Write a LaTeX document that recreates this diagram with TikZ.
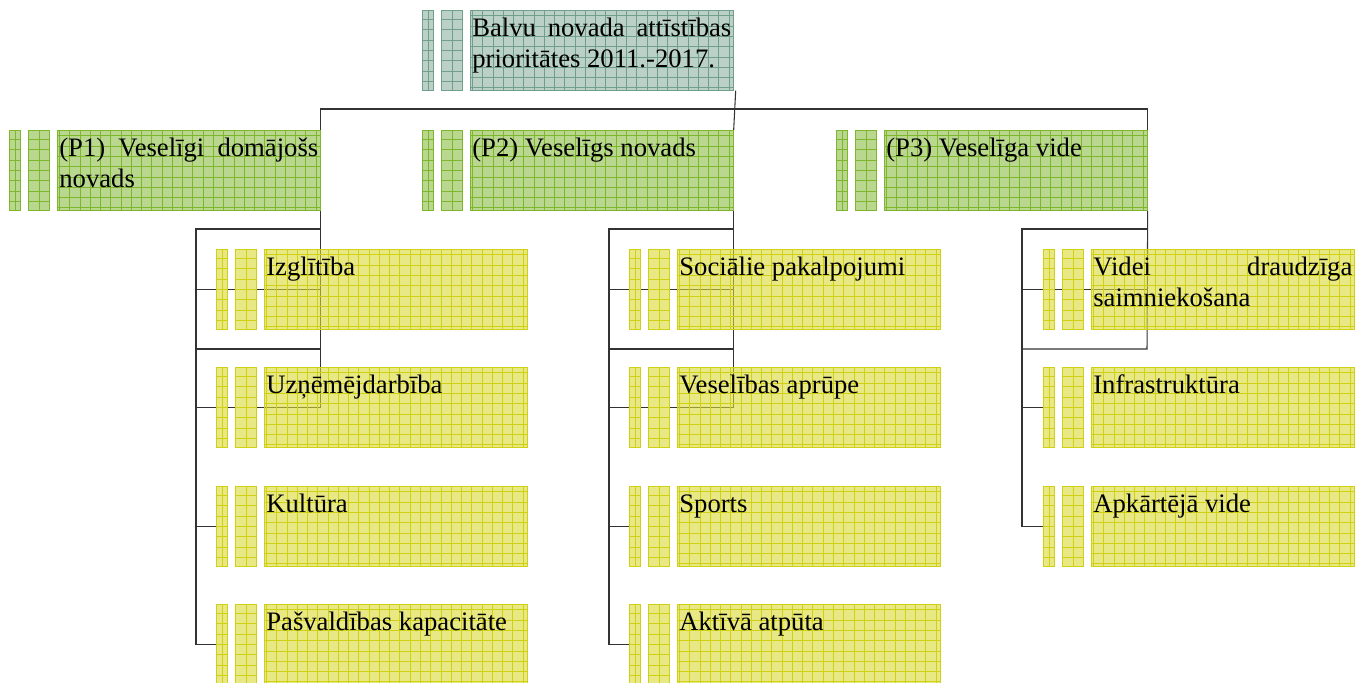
\documentclass[tikz,border=0pt]{standalone}
\usepackage{fontspec}
\setmainfont{Liberation Serif}
\usepackage{tikz}
\pgfdeclarelayer{bg}
\pgfsetlayers{bg,main}

\definecolor{topfill}{RGB}{142,178,162}
\definecolor{topline}{RGB}{112,160,140}
\definecolor{prifill}{RGB}{140,188,70}
\definecolor{priline}{RGB}{126,182,44}
\definecolor{subfill}{RGB}{216,216,50}
\definecolor{subline}{RGB}{208,208,20}

\tikzstyle{bar}=[anchor=north west, inner sep=0pt, minimum height=60pt, line width=0.5pt, fill opacity=0.6, text opacity=1]
\tikzstyle{lvltop}=[bar, draw=topline, fill=topfill, path picture={\draw[topline, line width=0.5pt] (path picture bounding box.south west) grid[step=7.7pt] (path picture bounding box.north east);}]
\tikzstyle{lvlpri}=[bar, draw=priline, fill=prifill, path picture={\draw[priline, line width=0.5pt] (path picture bounding box.south west) grid[step=7.7pt] (path picture bounding box.north east);}]
\tikzstyle{lvlsub}=[bar, draw=subline, fill=subfill, path picture={\draw[subline, line width=0.5pt] (path picture bounding box.south west) grid[step=7.7pt] (path picture bounding box.north east);}]
\tikzstyle{link}=[draw=black!80, line width=0.8pt]

% three pieces of one entry: two thin bars and the text box
\newcommand{\blk}[5]{%
  \node[#4, minimum width=8.25pt] (#1-a) at (#2,#3) {};
  \node[#4, minimum width=15.75pt] (#1-b) at (#2+19,#3) {};
  \node[#4, minimum width=197.25pt, inner xsep=1.5pt] (#1) at (#2+48,#3)
    {\parbox[t][60pt][t]{194.25pt}{\sloppy\hyphenpenalty=10000\rule{0pt}{19.5pt}#5}};
}

\begin{document}
\begin{tikzpicture}[x=0.75pt, y=-0.75pt, font=\fontsize{20pt}{23pt}\selectfont]
    \useasboundingbox (0,0) rectangle (1355,682);

    \blk{top}{422}{10}{lvltop}{Balvu novada attīstības prioritātes 2011.-2017.}

    \blk{p1}{9}{130}{lvlpri}{(P1) Veselīgi domājošs novads}
    \blk{p2}{422}{130}{lvlpri}{(P2) Veselīgs novads}
    \blk{p3}{836}{130}{lvlpri}{(P3) Veselīga vide}

    \blk{iz}{216}{249}{lvlsub}{Izglītība}
    \blk{uz}{216}{367}{lvlsub}{Uzņēmējdarbība}
    \blk{ku}{216}{486}{lvlsub}{Kultūra}
    \blk{pv}{216}{604}{lvlsub}{Pašvaldības kapacitāte}

    \blk{so}{629}{249}{lvlsub}{Sociālie pakalpojumi}
    \blk{ve}{629}{367}{lvlsub}{Veselības aprūpe}
    \blk{sp}{629}{486}{lvlsub}{Sports}
    \blk{ak}{629}{604}{lvlsub}{Aktīvā atpūta}

    \blk{vd}{1043}{249}{lvlsub}{Videi draudzīga saimniekošana}
    \blk{in}{1043}{367}{lvlsub}{Infrastruktūra}
    \blk{ap}{1043}{486}{lvlsub}{Apkārtējā vide}

    \coordinate (hub) at (735,109);
    \coordinate (r1) at (196,229);
    \coordinate (r2) at (609,229);
    \coordinate (r3) at (1022,229);
    \coordinate (g1) at (320,349);
    \coordinate (g2) at (733,349);
    \coordinate (g3) at (1147,349);

    \begin{pgfonlayer}{bg}
        % top level
        \draw[link] ([xshift=1.5pt]top.south east) -- (p2.north east);
        \draw[link] (p1.north east) |- (hub) -| (p3.north east);
        % P1
        \draw[link] (p1.south east) |- (r1) |- (iz-a.west) -- (iz-a.west -| p1.east);
        \draw[link] (r1) |- (pv-a.west);
        \draw[link] (r1 |- ku-a.west) -- (ku-a.west);
        \draw[link] (r1 |- g1) -- (g1);
        \draw[link] (r1 |- uz-a.west) -- (uz-a.west -| p1.east) -- (p1.south east);
        % P2
        \draw[link] (p2.south east) |- (r2) |- (so-a.west) -- (so-a.west -| p2.east);
        \draw[link] (r2) |- (ak-a.west);
        \draw[link] (r2 |- sp-a.west) -- (sp-a.west);
        \draw[link] (r2 |- g2) -- (g2);
        \draw[link] (r2 |- ve-a.west) -- (ve-a.west -| p2.east) -- (p2.south east);
        % P3
        \draw[link] (p3.south east) |- (r3) |- (vd-a.west) -- (vd-a.west -| p3.east);
        \draw[link] (r3) |- (ap-a.west);
        \draw[link] (r3 |- in-a.west) -- (in-a.west);
        \draw[link] (r3 |- g3) -- (g3) -- (p3.south east);
    \end{pgfonlayer}
\end{tikzpicture}
\end{document}
